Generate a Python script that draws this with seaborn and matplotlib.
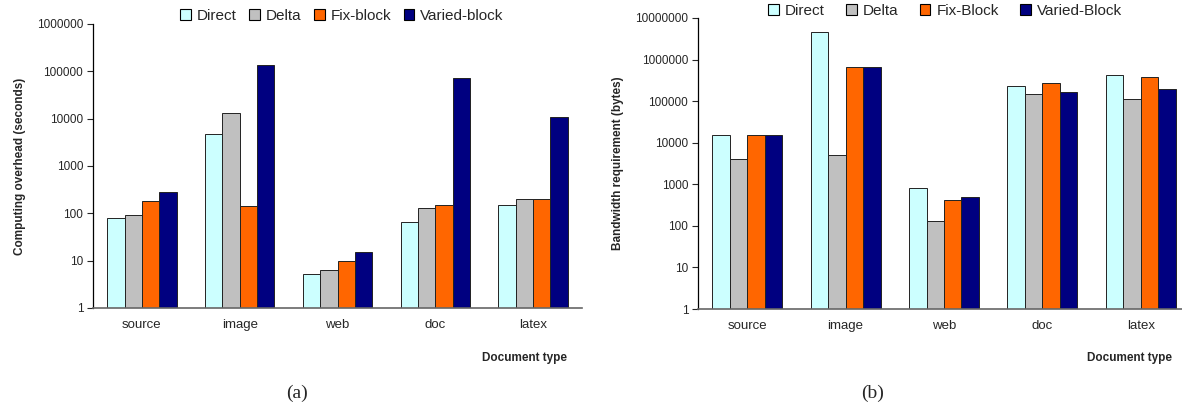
import numpy as np
import pandas as pd
import seaborn as sns
import matplotlib
matplotlib.use("Agg")
import matplotlib.pyplot as plt
from matplotlib.patches import Patch
from matplotlib.ticker import FixedLocator, FuncFormatter, NullLocator

# Data
doc_types = ["source", "image", "web", "doc", "latex"]

methods_a = ["Direct", "Delta", "Fix-block", "Varied-block"]
compute_direct = [78, 4700, 5.2, 67, 150]
compute_delta = [90, 13000, 6.2, 130, 200]
compute_fix = [185, 145, 9.8, 150, 200]
compute_varied = [280, 135000, 15, 72000, 11000]

methods_b = ["Direct", "Delta", "Fix-Block", "Varied-Block"]
bw_direct = [15500, 4500000, 820, 230000, 420000]
bw_delta = [4100, 5000, 130, 150000, 110000]
bw_fix = [15500, 680000, 420, 280000, 390000]
bw_varied = [15500, 680000, 500, 170000, 200000]

colors = ["#CCFFFF", "#C0C0C0", "#FF6600", "#000080"]


def make_df(methods, series):
    rows = []
    for m, vals in zip(methods, series):
        for d, v in zip(doc_types, vals):
            rows.append({"Document type": d, "Value": v, "Method": m})
    return pd.DataFrame(rows)


df_a = make_df(methods_a, [compute_direct, compute_delta, compute_fix, compute_varied])
df_b = make_df(methods_b, [bw_direct, bw_delta, bw_fix, bw_varied])

sns.set_style("ticks")
plt.rcParams["font.family"] = ["Liberation Sans", "DejaVu Sans"]

fig = plt.figure(figsize=(11.82, 4.09), dpi=100)
W, H = 1182, 409


def ax_at(x0, x1, ytop, ybot):
    return fig.add_axes([x0 / W, 1 - ybot / H, (x1 - x0) / W, (ybot - ytop) / H])


ax_a = ax_at(93, 582, 24, 308)
ax_b = ax_at(698, 1190, 18, 309)


def draw(ax, df, methods, top, ylabel, legend_xy, colspace):
    sns.barplot(data=df, x="Document type", y="Value", hue="Method",
                hue_order=methods, palette=colors, saturation=1,
                width=0.71, gap=0, edgecolor="#222222", linewidth=0.7,
                errorbar=None, legend=False, ax=ax)
    ax.set_yscale("log")
    ax.set_ylim(1, top)
    ax.set_xlim(-0.5, 4.5)
    ticks = [10 ** i for i in range(int(np.log10(top)) + 1)]
    ax.yaxis.set_major_locator(FixedLocator(ticks))
    ax.yaxis.set_minor_locator(NullLocator())
    ax.yaxis.set_major_formatter(FuncFormatter(lambda v, p: f"{int(round(v))}"))
    ax.tick_params(axis="y", labelsize=8.5, length=4, width=0.8, direction="out", pad=3)
    ax.tick_params(axis="x", labelsize=9.5, length=0, pad=8)
    ax.set_xlabel("")
    ax.set_ylabel(ylabel, fontsize=8.5, fontweight="bold", labelpad=8)
    for s in ["top", "right"]:
        ax.spines[s].set_visible(False)
    ax.spines["left"].set_color("black")
    ax.spines["left"].set_linewidth(0.9)
    ax.spines["bottom"].set_color("#666666")
    ax.spines["bottom"].set_linewidth(1.2)
    handles = [Patch(facecolor=c, edgecolor="black", linewidth=0.8, label=m)
               for c, m in zip(colors, methods)]
    ax.legend(handles=handles, loc="center", bbox_to_anchor=legend_xy, ncol=4,
              frameon=False, fontsize=11, handlelength=0.7, handleheight=0.7,
              handletextpad=0.4, columnspacing=colspace, borderaxespad=0,
              bbox_transform=fig.transFigure)


draw(ax_a, df_a, methods_a, 1e6, "Computing overhead (seconds)", (342 / W, 1 - 16 / H), 0.8)
draw(ax_b, df_b, methods_b, 1e7, "Bandwidth requirement (bytes)", (945 / W, 1 - 11 / H), 1.4)

fig.text(567 / W, 1 - 358 / H, "Document type", ha="right", va="center",
         fontsize=8.5, fontweight="bold")
fig.text(1172 / W, 1 - 358 / H, "Document type", ha="right", va="center",
         fontsize=8.5, fontweight="bold")
fig.text(297 / W, 1 - 393 / H, "(a)", ha="center", va="center", fontsize=14,
         family=["Liberation Serif", "DejaVu Serif"])
fig.text(873 / W, 1 - 393 / H, "(b)", ha="center", va="center", fontsize=14,
         family=["Liberation Serif", "DejaVu Serif"])

fig.savefig("out.png", dpi=100)
